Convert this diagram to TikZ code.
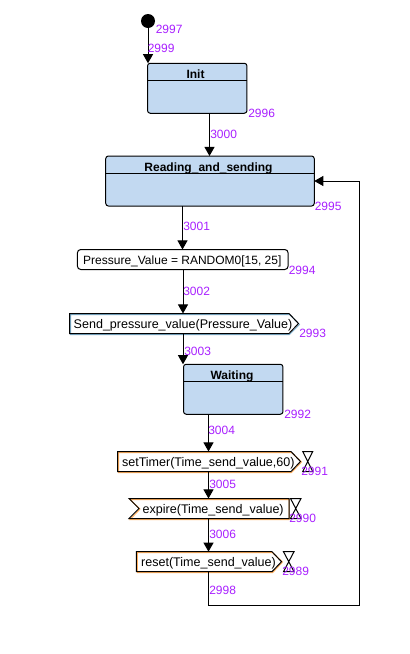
\documentclass[tikz,border=0pt]{standalone}
\usepackage{fontspec}
\setmainfont{Liberation Sans}
\usetikzlibrary{arrows.meta}
\definecolor{statefill}{HTML}{C2D9F1}
\definecolor{numcol}{HTML}{A81FFF}
\definecolor{timeline}{HTML}{FFAE5C}
\definecolor{sendline}{HTML}{7FB2D0}
\tikzset{
  x=0.75pt,y=-0.75pt,
  num/.style={text=numcol,font=\fontsize{9}{9}\selectfont,anchor=west,inner sep=0pt},
  state/.style={draw=black,fill=statefill,rounded corners=2pt,line width=0.75pt,minimum height=37.5pt,inner sep=0pt,outer sep=0pt},
  title/.style={font=\fontsize{9}{9}\selectfont\bfseries,inner sep=0pt,anchor=base},
  action/.style={draw=black,fill=white,rounded corners=2.5pt,line width=0.75pt,inner sep=0pt,outer sep=0pt,minimum height=15pt},
  txt/.style={font=\fontsize{9}{9}\selectfont,inner sep=0pt,anchor=base},
  sigtxt/.style={font=\fontsize{9.4}{9.4}\selectfont,inner sep=0pt,anchor=base},
  conn/.style={draw=black,line width=0.75pt,-{Triangle[length=6.8pt,width=7.5pt]}},
  plain/.style={draw=black,line width=0.75pt},
  glass/.style={draw=black,fill=white,line width=0.75pt},
}
\begin{document}
\begin{tikzpicture}
\useasboundingbox (0,0) rectangle (410,654);
% start
\node[fill=black,circle,minimum size=10.5pt,inner sep=0pt,outer sep=0pt] (start) at (148,21) {};
% states
\node[state,minimum width=74.6pt] (init) at (197.25,88.25) {};
\draw[plain] (147.5,80) -- (247,80);
\node[title] (initT) at (195.5,78) {Init};
\node[state,minimum width=156.4pt] (read) at (210,181) {};
\draw[plain] (105.5,173) -- (314.5,173);
\node[title] (readT) at (208.5,171) {Reading\_and\_sending};
\node[state,minimum width=74.6pt] (wait) at (233.25,389.25) {};
\draw[plain] (183.5,381.5) -- (283,381.5);
\node[title] (waitT) at (232,379) {Waiting};
% actions
\node[action,minimum width=158pt] (press) at (182.75,259.5) {};
\node[txt] (pressT) at (182.3,264) {Pressure\_Value = RANDOM0[15, 25]};
% send signals
\coordinate (sendA) at (183,313.5);
\coordinate (sendB) at (183,334);
\path[fill=white,draw=sendline,line width=0.75pt] (70.5,314.5) -- (289.5,314.5) -- (299.5,324.5) -- (289.5,334.5) -- (70.5,334.5) -- cycle;
\draw[plain] (69.5,334) -- (69.5,313.5) -- (289,313.5) -- (298.5,323.5) -- (289,333.5) -- (69.5,333.5);
\node[sigtxt] (sendT) at (183,328) {Send\_pressure\_value(Pressure\_Value)};
% timers
\coordinate (setA) at (208.5,451.5);
\coordinate (setB) at (208.5,471.5);
\path[fill=white,draw=timeline,line width=0.75pt] (118.5,452.5) -- (291.5,452.5) -- (301.5,462) -- (291.5,472.5) -- (118.5,472.5) -- cycle;
\draw[plain] (117.5,471.5) -- (117.5,451.5) -- (291,451.5) -- (300.5,461.5) -- (291,471.5) -- cycle;
\node[sigtxt] (setT) at (208.3,466) {setTimer(Time\_send\_value,60)};
\draw[glass] (302.7,451.5) -- (312.7,451.5) -- (302.7,471.5) -- (312.7,471.5) -- cycle;
\coordinate (expA) at (208.5,498.5);
\coordinate (expB) at (208.5,518.7);
\path[fill=white,draw=timeline,line width=0.75pt] (130,519.5) -- (140,509) -- (130,499.5) -- (289,499.5) -- (289,519.5) -- cycle;
\draw[plain] (289,518.5) -- (129,518.5) -- (139,508.5) -- (129,498.5) -- (289,498.5) -- cycle;
\node[sigtxt] (expT) at (213.2,513) {expire(Time\_send\_value)};
\draw[glass] (290.5,498.5) -- (301,498.5) -- (290.5,518.5) -- (301,518.5) -- cycle;
\coordinate (resA) at (208.5,551.7);
\coordinate (resB) at (208.5,571.7);
\path[fill=white,draw=timeline,line width=0.75pt] (137.3,552.7) -- (272.5,552.7) -- (282.5,562) -- (272.5,572.7) -- (137.3,572.7) -- cycle;
\draw[plain] (136.3,571.7) -- (136.3,551.7) -- (272,551.7) -- (281.5,561.7) -- (272,571.7) -- cycle;
\node[sigtxt] (resT) at (208.5,566) {reset(Time\_send\_value)};
\draw[glass] (283.5,551.7) -- (294,551.7) -- (283.5,571.7) -- (294,571.7) -- cycle;
% connectors
\draw[conn] (start) -- (start |- init.north);
\draw[conn] (209.5,0 |- init.south) -- (209.5,0 |- read.north);
\draw[conn] (182.5,0 |- read.south) -- (182.5,0 |- press.north);
\draw[conn] (183,0 |- press.south) -- (sendA);
\draw[conn] (sendB) -- (183,0 |- wait.north);
\draw[conn] (208.5,0 |- wait.south) -- (setA);
\draw[conn] (setB) -- (expA);
\draw[conn] (expB) -- (resA);
\coordinate (cornerA) at (208.5,605);
\coordinate (cornerB) at (359.5,605);
\coordinate (cornerC) at (359.5,181);
\draw[conn] (resB) -- (cornerA) -- (cornerB) -- (cornerC) -- (read.east |- cornerC);
% numbers
\node[num] (n2997) at (155.5,29) {2997};
\node[num] (n2999) at (147.5,48) {2999};
\node[num] (n2996) at (248,113.5) {2996};
\node[num] (n3000) at (210,134) {3000};
\node[num] (n2995) at (314.5,206) {2995};
\node[num] (n3001) at (183,226) {3001};
\node[num] (n2994) at (288.5,270) {2994};
\node[num] (n3002) at (183,291.5) {3002};
\node[num] (n2993) at (299,333.5) {2993};
\node[num] (n3003) at (184,351.5) {3003};
\node[num] (n2992) at (284,414.5) {2992};
\node[num] (n3004) at (208,430) {3004};
\node[num] (n2991) at (301,471.5) {2991};
\node[num] (n3005) at (209,484.5) {3005};
\node[num] (n2990) at (289,518.5) {2990};
\node[num] (n3006) at (209,534.5) {3006};
\node[num] (n2989) at (282,571) {2989};
\node[num] (n2998) at (209,590) {2998};
\end{tikzpicture}
\end{document}
